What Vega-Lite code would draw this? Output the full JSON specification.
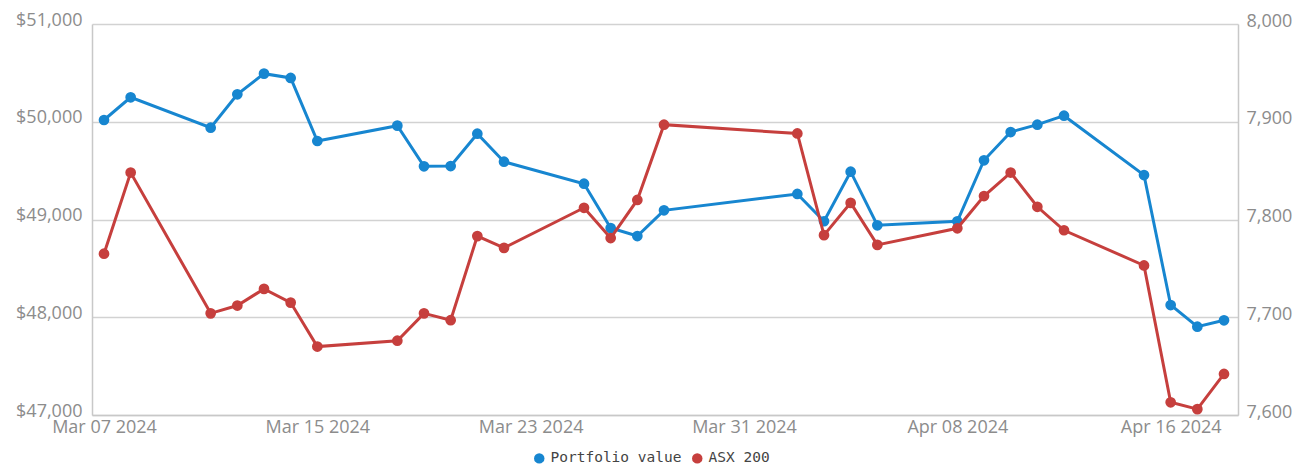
{
  "$schema": "https://vega.github.io/schema/vega-lite/v6.json",
  "width": 1146,
  "height": 391,
  "autosize": {"type": "none"},
  "padding": {"left": 92, "top": 24, "right": 73, "bottom": 51},
  "background": "white",
  "config": {
    "view": {"stroke": null},
    "axis": {
      "labelFont": "Open Sans",
      "labelFontSize": 18,
      "labelColor": "#8c8c8c",
      "domainColor": "#c8c8c8",
      "domainWidth": 1.5,
      "gridColor": "#d2d2d2",
      "gridWidth": 1.5,
      "ticks": false,
      "title": null
    }
  },
  "data": {
    "values": [
      {"date": "2024-03-07", "series": "Portfolio value", "value": 50018},
      {"date": "2024-03-08", "series": "Portfolio value", "value": 50250},
      {"date": "2024-03-11", "series": "Portfolio value", "value": 49939},
      {"date": "2024-03-12", "series": "Portfolio value", "value": 50281},
      {"date": "2024-03-13", "series": "Portfolio value", "value": 50492},
      {"date": "2024-03-14", "series": "Portfolio value", "value": 50448},
      {"date": "2024-03-15", "series": "Portfolio value", "value": 49803},
      {"date": "2024-03-18", "series": "Portfolio value", "value": 49960},
      {"date": "2024-03-19", "series": "Portfolio value", "value": 49544},
      {"date": "2024-03-20", "series": "Portfolio value", "value": 49547},
      {"date": "2024-03-21", "series": "Portfolio value", "value": 49878},
      {"date": "2024-03-22", "series": "Portfolio value", "value": 49591},
      {"date": "2024-03-25", "series": "Portfolio value", "value": 49366},
      {"date": "2024-03-26", "series": "Portfolio value", "value": 48913},
      {"date": "2024-03-27", "series": "Portfolio value", "value": 48831},
      {"date": "2024-03-28", "series": "Portfolio value", "value": 49094},
      {"date": "2024-04-02", "series": "Portfolio value", "value": 49261},
      {"date": "2024-04-03", "series": "Portfolio value", "value": 48982},
      {"date": "2024-04-04", "series": "Portfolio value", "value": 49489},
      {"date": "2024-04-05", "series": "Portfolio value", "value": 48941},
      {"date": "2024-04-08", "series": "Portfolio value", "value": 48982},
      {"date": "2024-04-09", "series": "Portfolio value", "value": 49606},
      {"date": "2024-04-10", "series": "Portfolio value", "value": 49895},
      {"date": "2024-04-11", "series": "Portfolio value", "value": 49970},
      {"date": "2024-04-12", "series": "Portfolio value", "value": 50062},
      {"date": "2024-04-15", "series": "Portfolio value", "value": 49455},
      {"date": "2024-04-16", "series": "Portfolio value", "value": 48125},
      {"date": "2024-04-17", "series": "Portfolio value", "value": 47903},
      {"date": "2024-04-18", "series": "Portfolio value", "value": 47969},
      {"date": "2024-03-07", "series": "ASX 200", "value": 7765},
      {"date": "2024-03-08", "series": "ASX 200", "value": 7848},
      {"date": "2024-03-11", "series": "ASX 200", "value": 7704},
      {"date": "2024-03-12", "series": "ASX 200", "value": 7712},
      {"date": "2024-03-13", "series": "ASX 200", "value": 7729},
      {"date": "2024-03-14", "series": "ASX 200", "value": 7715},
      {"date": "2024-03-15", "series": "ASX 200", "value": 7670},
      {"date": "2024-03-18", "series": "ASX 200", "value": 7676},
      {"date": "2024-03-19", "series": "ASX 200", "value": 7704},
      {"date": "2024-03-20", "series": "ASX 200", "value": 7697},
      {"date": "2024-03-21", "series": "ASX 200", "value": 7783},
      {"date": "2024-03-22", "series": "ASX 200", "value": 7771},
      {"date": "2024-03-25", "series": "ASX 200", "value": 7812},
      {"date": "2024-03-26", "series": "ASX 200", "value": 7781},
      {"date": "2024-03-27", "series": "ASX 200", "value": 7820},
      {"date": "2024-03-28", "series": "ASX 200", "value": 7897},
      {"date": "2024-04-02", "series": "ASX 200", "value": 7888},
      {"date": "2024-04-03", "series": "ASX 200", "value": 7784},
      {"date": "2024-04-04", "series": "ASX 200", "value": 7817},
      {"date": "2024-04-05", "series": "ASX 200", "value": 7774},
      {"date": "2024-04-08", "series": "ASX 200", "value": 7791},
      {"date": "2024-04-09", "series": "ASX 200", "value": 7824},
      {"date": "2024-04-10", "series": "ASX 200", "value": 7848},
      {"date": "2024-04-11", "series": "ASX 200", "value": 7813},
      {"date": "2024-04-12", "series": "ASX 200", "value": 7789},
      {"date": "2024-04-15", "series": "ASX 200", "value": 7753},
      {"date": "2024-04-16", "series": "ASX 200", "value": 7613},
      {"date": "2024-04-17", "series": "ASX 200", "value": 7606},
      {"date": "2024-04-18", "series": "ASX 200", "value": 7642}
    ]
  },
  "encoding": {
    "x": {
      "field": "date",
      "type": "temporal",
      "scale": {
        "type": "utc",
        "domain": [
          {"year": 2024, "month": "Mar", "date": 6, "hours": 13, "minutes": 12, "utc": true},
          {"year": 2024, "month": "Apr", "date": 18, "hours": 12, "minutes": 36, "utc": true}
        ]
      },
      "axis": {
        "values": [
          {"year": 2024, "month": "Mar", "date": 7, "utc": true},
          {"year": 2024, "month": "Mar", "date": 15, "utc": true},
          {"year": 2024, "month": "Mar", "date": 23, "utc": true},
          {"year": 2024, "month": "Mar", "date": 31, "utc": true},
          {"year": 2024, "month": "Apr", "date": 8, "utc": true},
          {"year": 2024, "month": "Apr", "date": 16, "utc": true}
        ],
        "labelExpr": "utcFormat(datum.value, '%b %d %Y')",
        "grid": false,
        "labelPadding": 3,
        "labelFlush": false,
        "labelOverlap": false
      }
    },
    "color": {
      "field": "series",
      "type": "nominal",
      "scale": {"domain": ["Portfolio value", "ASX 200"], "range": ["#1786d0", "#c63f3d"]},
      "legend": {
        "title": null,
        "orient": "none",
        "direction": "horizontal",
        "legendX": 440,
        "legendY": 427,
        "symbolType": "circle",
        "symbolSize": 110,
        "symbolStrokeWidth": 0,
        "labelFont": "DejaVu Sans Mono",
        "labelFontSize": 14.5,
        "labelColor": "#444444",
        "labelOffset": 4,
        "columnPadding": 8
      }
    }
  },
  "layer": [
    {
      "transform": [{"filter": "datum.series === 'Portfolio value'"}],
      "mark": {"type": "line", "strokeWidth": 3, "point": {"filled": true, "size": 115}},
      "encoding": {
        "y": {
          "field": "value",
          "type": "quantitative",
          "scale": {"domain": [47000, 51000], "zero": false, "nice": false},
          "axis": {
            "orient": "left",
            "values": [47000, 48000, 49000, 50000, 51000],
            "format": "$,.0f",
            "labelPadding": 10,
            "labelBaseline": "middle",
            "labelOffset": -4
          }
        }
      }
    },
    {
      "transform": [{"filter": "datum.series === 'ASX 200'"}],
      "mark": {"type": "line", "strokeWidth": 3, "point": {"filled": true, "size": 115}},
      "encoding": {
        "y": {
          "field": "value",
          "type": "quantitative",
          "scale": {"domain": [7600, 8000], "zero": false, "nice": false},
          "axis": {
            "orient": "right",
            "values": [7600, 7700, 7800, 7900, 8000],
            "format": ",.0f",
            "grid": false,
            "labelPadding": 8,
            "labelBaseline": "middle",
            "labelOffset": -3
          }
        }
      }
    }
  ],
  "resolve": {"scale": {"y": "independent"}}
}
